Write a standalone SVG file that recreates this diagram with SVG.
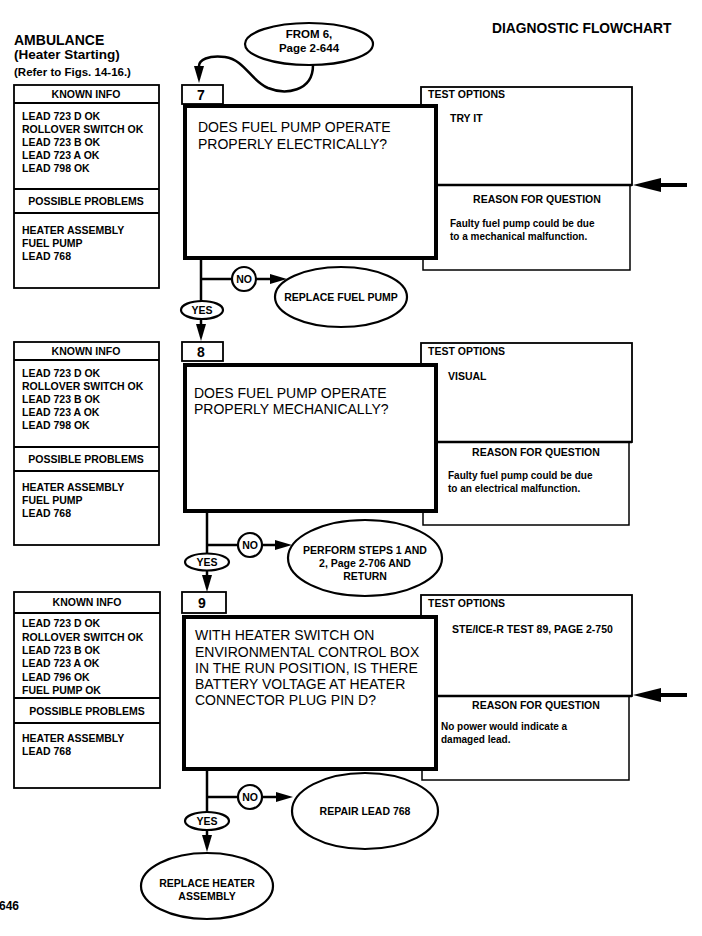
<svg xmlns="http://www.w3.org/2000/svg" width="702" height="936" viewBox="0 0 702 936">
<defs>
<style>
text{font-family:"Liberation Sans",Arial,Helvetica,sans-serif;fill:#000}
.b{font-weight:bold;font-size:10.5px}
.s{font-weight:bold;font-size:10px}
.q{font-size:14px}
.num{font-weight:bold;font-size:14px}
.c{text-anchor:middle}
.box{fill:#fff;stroke:#000;stroke-width:1.8}
.thin{fill:#fff;stroke:#000;stroke-width:1.5}
.qbox{fill:#fff;stroke:#000;stroke-width:4}
.ln{fill:none;stroke:#000;stroke-width:2.5}
.big{fill:none;stroke:#000;stroke-width:4}
.ov{fill:#fff;stroke:#000;stroke-width:2.2}
</style>
<marker id="arr" viewBox="0 0 17 10" refX="0" refY="5" markerWidth="17" markerHeight="10" markerUnits="userSpaceOnUse" orient="auto"><path d="M0,0 L17,5 L0,10 z" fill="#000"/></marker>
<marker id="bigarr" viewBox="0 0 28 14" refX="0" refY="7" markerWidth="28" markerHeight="14" markerUnits="userSpaceOnUse" orient="auto"><path d="M0,0 L28,7 L0,14 z" fill="#000"/></marker>
</defs>
<rect width="702" height="936" fill="#fff"/>

<g id="header">
<text x="14" y="45" font-weight="bold" font-size="14">AMBULANCE</text>
<text x="14" y="59" font-weight="bold" font-size="13.5">(Heater Starting)</text>
<text x="14" y="76" font-weight="bold" font-size="11.5">(Refer to Figs. 14-16.)</text>
<text x="492" y="33" font-weight="bold" font-size="13.8">DIAGNOSTIC FLOWCHART</text>
<text x="-1" y="910" font-weight="bold" font-size="12">646</text>
</g>

<g id="connectors">
<path class="ln" d="M313,65 C313,92 285,95 268,88 C250,80 245,60 225,57 C208,55 199,60 199,66" marker-end="url(#arr)"/>
<line class="big" x1="687" y1="185" x2="661" y2="185" marker-end="url(#bigarr)"/>
<line class="big" x1="687" y1="695" x2="661" y2="695" marker-end="url(#bigarr)"/>
<line class="ln" x1="201" y1="259" x2="201" y2="324" marker-end="url(#arr)"/>
<line class="ln" x1="201" y1="279" x2="232" y2="279"/>
<line class="ln" x1="256" y1="279" x2="270" y2="279" marker-end="url(#arr)"/>
<line class="ln" x1="207" y1="512" x2="207" y2="575" marker-end="url(#arr)"/>
<line class="ln" x1="207" y1="545" x2="238" y2="545"/>
<line class="ln" x1="262" y1="545" x2="275" y2="545" marker-end="url(#arr)"/>
<line class="ln" x1="207" y1="770" x2="207" y2="835" marker-end="url(#arr)"/>
<line class="ln" x1="207" y1="797" x2="238" y2="797"/>
<line class="ln" x1="262" y1="797" x2="276" y2="797" marker-end="url(#arr)"/>
</g>

<g id="from6">
<ellipse class="ov" cx="309" cy="44" rx="64" ry="21"/>
<text class="c" x="309" y="38" font-weight="bold" font-size="11.5">FROM 6,</text>
<text class="c" x="309" y="52" font-weight="bold" font-size="11.5">Page 2-644</text>
</g>

<g id="known7">
<rect class="box" x="14" y="85" width="145" height="203"/>
<line class="box" x1="14" y1="103" x2="159" y2="103"/>
<line class="box" x1="14" y1="189" x2="159" y2="189"/>
<line class="box" x1="14" y1="213" x2="159" y2="213"/>
<text class="b c" x="86" y="98">KNOWN INFO</text>
<text class="b" x="22" y="120">LEAD 723 D OK</text>
<text class="b" x="22" y="133">ROLLOVER SWITCH OK</text>
<text class="b" x="22" y="146">LEAD 723 B OK</text>
<text class="b" x="22" y="159">LEAD 723 A OK</text>
<text class="b" x="22" y="172">LEAD 798 OK</text>
<text class="b c" x="86" y="205">POSSIBLE PROBLEMS</text>
<text class="b" x="22" y="234">HEATER ASSEMBLY</text>
<text class="b" x="22" y="247">FUEL PUMP</text>
<text class="b" x="22" y="260">LEAD 768</text>
</g>
<g id="panel7">
<rect class="box" x="421" y="87" width="211" height="98"/>
<rect class="thin" x="423" y="185" width="207" height="85"/>
<line x1="421" y1="185" x2="632" y2="185" stroke="#000" stroke-width="2.5"/>
<text class="b" x="428" y="98">TEST OPTIONS</text>
<text class="b" x="450" y="122">TRY IT</text>
<text class="b c" x="537" y="203">REASON FOR QUESTION</text>
<text class="s" x="450" y="227">Faulty fuel pump could be due</text>
<text class="s" x="450" y="240">to a mechanical malfunction.</text>
</g>
<g id="tab7">
<rect class="box" x="182" y="85" width="41" height="19"/>
<text class="num" x="197" y="100">7</text>
</g>
<g id="q7">
<rect class="qbox" x="185" y="106" width="251" height="152"/>
<text class="q" x="198" y="132">DOES FUEL PUMP OPERATE</text>
<text class="q" x="198" y="149">PROPERLY ELECTRICALLY?</text>
</g>
<g id="no7">
<circle class="ov" cx="244" cy="279" r="12"/>
<text class="b c" x="244" y="283">NO</text>
</g>
<g id="replacepump">
<ellipse class="ov" cx="341" cy="297" rx="66" ry="30"/>
<text class="b c" x="341" y="301">REPLACE FUEL PUMP</text>
</g>
<g id="yes7">
<ellipse class="ov" cx="202" cy="310" rx="21" ry="9"/>
<text class="b c" x="202" y="314">YES</text>
</g>

<g id="known8">
<rect class="box" x="14" y="342" width="145" height="203"/>
<line class="box" x1="14" y1="360" x2="159" y2="360"/>
<line class="box" x1="14" y1="447" x2="159" y2="447"/>
<line class="box" x1="14" y1="471" x2="159" y2="471"/>
<text class="b c" x="86" y="355">KNOWN INFO</text>
<text class="b" x="22" y="377">LEAD 723 D OK</text>
<text class="b" x="22" y="390">ROLLOVER SWITCH OK</text>
<text class="b" x="22" y="403">LEAD 723 B OK</text>
<text class="b" x="22" y="416">LEAD 723 A OK</text>
<text class="b" x="22" y="429">LEAD 798 OK</text>
<text class="b c" x="86" y="463">POSSIBLE PROBLEMS</text>
<text class="b" x="22" y="491">HEATER ASSEMBLY</text>
<text class="b" x="22" y="504">FUEL PUMP</text>
<text class="b" x="22" y="517">LEAD 768</text>
</g>
<g id="panel8">
<rect class="box" x="421" y="343" width="211" height="99"/>
<rect class="thin" x="423" y="442" width="206" height="83"/>
<line x1="421" y1="442" x2="632" y2="442" stroke="#000" stroke-width="2.5"/>
<text class="b" x="428" y="355">TEST OPTIONS</text>
<text class="b" x="448" y="380">VISUAL</text>
<text class="b c" x="536" y="456">REASON FOR QUESTION</text>
<text class="s" x="448" y="479">Faulty fuel pump could be due</text>
<text class="s" x="448" y="492">to an electrical malfunction.</text>
</g>
<g id="tab8">
<rect class="box" x="182" y="342" width="41" height="19"/>
<text class="num" x="197" y="357">8</text>
</g>
<g id="q8">
<rect class="qbox" x="185" y="365" width="251" height="146"/>
<text class="q" x="194" y="398">DOES FUEL PUMP OPERATE</text>
<text class="q" x="194" y="414">PROPERLY MECHANICALLY?</text>
</g>
<g id="no8">
<circle class="ov" cx="250" cy="545" r="12"/>
<text class="b c" x="250" y="549">NO</text>
</g>
<g id="performsteps">
<ellipse class="ov" cx="365" cy="558" rx="77" ry="38"/>
<text class="b c" x="365" y="554">PERFORM STEPS 1 AND</text>
<text class="b c" x="365" y="567">2, Page 2-706 AND</text>
<text class="b c" x="365" y="580">RETURN</text>
</g>
<g id="yes8">
<ellipse class="ov" cx="207" cy="562" rx="22" ry="8.5"/>
<text class="b c" x="207" y="566">YES</text>
</g>

<g id="known9">
<rect class="box" x="14" y="592" width="146" height="196"/>
<line class="box" x1="14" y1="613" x2="160" y2="613"/>
<line class="box" x1="14" y1="698" x2="160" y2="698"/>
<line class="box" x1="14" y1="723" x2="160" y2="723"/>
<text class="b c" x="87" y="606">KNOWN INFO</text>
<text class="b" x="22" y="627">LEAD 723 D OK</text>
<text class="b" x="22" y="641">ROLLOVER SWITCH OK</text>
<text class="b" x="22" y="654">LEAD 723 B OK</text>
<text class="b" x="22" y="667">LEAD 723 A OK</text>
<text class="b" x="22" y="681">LEAD 796 OK</text>
<text class="b" x="22" y="694">FUEL PUMP OK</text>
<text class="b c" x="87" y="715">POSSIBLE PROBLEMS</text>
<text class="b" x="22" y="742">HEATER ASSEMBLY</text>
<text class="b" x="22" y="755">LEAD 768</text>
</g>
<g id="panel9">
<rect class="box" x="421" y="595" width="211" height="101"/>
<rect class="thin" x="422" y="696" width="207" height="84"/>
<line x1="421" y1="696" x2="632" y2="696" stroke="#000" stroke-width="2.5"/>
<text class="b" x="428" y="607">TEST OPTIONS</text>
<text class="b" x="452" y="633">STE/ICE-R TEST 89, PAGE 2-750</text>
<text class="b c" x="536" y="709">REASON FOR QUESTION</text>
<text class="s" x="441" y="730">No power would indicate a</text>
<text class="s" x="441" y="743">damaged lead.</text>
</g>
<g id="tab9">
<rect class="box" x="182" y="592" width="44" height="21"/>
<text class="num" x="198" y="608">9</text>
</g>
<g id="q9">
<rect class="qbox" x="184" y="617" width="252" height="152"/>
<text class="q" x="195" y="640">WITH HEATER SWITCH ON</text>
<text class="q" x="195" y="657">ENVIRONMENTAL CONTROL BOX</text>
<text class="q" x="195" y="673">IN THE RUN POSITION, IS THERE</text>
<text class="q" x="195" y="689">BATTERY VOLTAGE AT HEATER</text>
<text class="q" x="195" y="705">CONNECTOR PLUG PIN D?</text>
</g>
<g id="no9">
<circle class="ov" cx="250" cy="797" r="12"/>
<text class="b c" x="250" y="801">NO</text>
</g>
<g id="repairlead">
<ellipse class="ov" cx="365" cy="811" rx="73" ry="38"/>
<text class="b c" x="365" y="815">REPAIR LEAD 768</text>
</g>
<g id="yes9">
<ellipse class="ov" cx="207" cy="821" rx="22" ry="9"/>
<text class="b c" x="207" y="825">YES</text>
</g>
<g id="replaceheater">
<ellipse class="ov" cx="207" cy="886" rx="66" ry="33"/>
<text class="b c" x="207" y="887">REPLACE HEATER</text>
<text class="b c" x="207" y="900">ASSEMBLY</text>
</g>
</svg>
